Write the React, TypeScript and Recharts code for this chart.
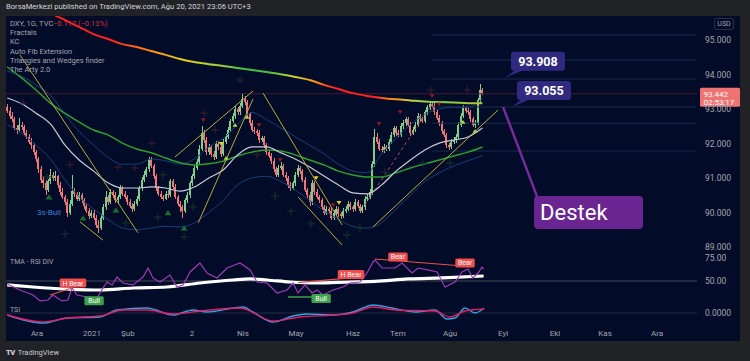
import React from 'react';
import { ComposedChart, Bar, Line, Scatter, XAxis, YAxis, ReferenceLine, ReferenceDot } from 'recharts';

const FONT = 'Roboto, "Noto Sans", sans-serif';
const FRAME = '#212226';
const PANEL = '#020b27';
const AXIS_TEXT = '#a3a6af';
const UP = '#7ccf8a';
const DOWN = '#f07676';

// Daily DXY candles (index 0 = mid Nov 2020)
const FIRST_OPEN = 93.05;
const CLOSE = [
  92.95, 92.8, 92.7, 92.45, 92.38, 92.55, 92.48, 92.3, 92.2, 92.05,
  91.95, 91.75, 91.55, 91.25, 90.95, 90.85, 90.65, 90.9, 91.1, 91.0,
  91.05, 90.8, 90.6, 90.45, 90.3, 89.98, 90.25, 90.62, 90.55, 90.4,
  90.5, 90.35, 90.18, 90.05, 89.9, 90.0, 89.85, 89.65, 89.55, 89.85,
  90.15, 90.45, 90.3, 90.6, 90.5, 90.35, 90.45, 90.7, 90.55, 90.45,
  90.3, 90.2, 90.1, 90.25, 90.4, 90.7, 90.95, 91.1, 91.25, 91.55,
  91.35, 91.05, 90.7, 90.55, 90.45, 90.4, 90.55, 90.5, 90.9, 90.75,
  90.45, 90.25, 90.15, 90.05, 90.35, 90.5, 90.85, 91.05, 91.3, 91.45,
  91.85, 92.3, 92.1, 91.75, 91.9, 91.7, 91.6, 92.0, 91.9, 91.7,
  92.05, 92.2, 92.4, 92.65, 92.8, 93.0, 92.9, 93.1, 93.3, 93.2,
  92.85, 92.6, 92.4, 92.35, 92.3, 92.1, 92.15, 91.95, 91.75, 91.65,
  91.5, 91.25, 91.1, 91.3, 91.35, 91.1, 91.0, 90.8, 90.7, 90.85,
  91.1, 91.3, 91.2, 90.95, 90.65, 90.5, 90.3, 90.85, 90.6, 90.45,
  90.35, 90.15, 90.0, 90.1, 90.05, 89.85, 90.0, 90.1, 89.95, 89.9,
  90.05, 90.1, 90.25, 90.15, 90.1, 90.3, 90.2, 90.05, 90.15, 90.4,
  90.45, 90.6, 91.4, 92.2, 92.05, 91.85, 91.8, 91.9, 91.85, 92.05,
  92.25, 92.45, 92.3, 92.25, 92.5, 92.6, 92.7, 92.55, 92.3, 92.4,
  92.55, 92.8, 92.7, 92.65, 92.9, 93.05, 93.15, 93.1, 92.9, 92.75,
  92.6, 92.35, 92.25, 91.95, 91.9, 92.05, 92.1, 92.2, 92.55, 92.8,
  93.05, 92.95, 92.9, 92.7, 92.55, 92.6, 93.25, 93.55, 93.442,
];
const HIGH = [
  93.15, 93.05, 92.9, 92.78, 92.55, 92.75, 92.62, 92.55, 92.38, 92.28,
  92.15, 92.02, 91.82, 91.62, 91.35, 91.05, 90.95, 90.98, 91.25, 91.18,
  91.2, 91.1, 90.88, 90.7, 90.52, 90.38, 90.35, 91.1, 90.72, 90.6,
  90.58, 90.56, 90.42, 90.25, 90.12, 90.08, 90.06, 89.92, 89.78, 89.95,
  90.25, 90.62, 90.52, 90.68, 90.66, 90.58, 90.52, 90.8, 90.78, 90.62,
  90.52, 90.38, 90.28, 90.32, 90.48, 90.78, 91.02, 91.2, 91.32, 91.62,
  91.6, 91.42, 91.12, 90.78, 90.62, 90.52, 90.62, 90.64, 90.98, 90.96,
  90.82, 90.52, 90.32, 90.22, 90.42, 90.58, 90.92, 91.12, 91.38, 91.55,
  91.95, 92.5, 92.38, 92.18, 91.98, 91.96, 91.78, 92.08, 92.08, 91.96,
  92.12, 92.28, 92.48, 92.72, 92.88, 93.08, 93.06, 93.18, 93.45, 93.38,
  93.26, 92.92, 92.68, 92.48, 92.42, 92.38, 92.22, 92.22, 92.02, 91.82,
  91.72, 91.58, 91.32, 91.38, 91.45, 91.42, 91.18, 91.06, 90.88, 90.92,
  91.18, 91.38, 91.36, 91.26, 91.02, 90.72, 90.58, 90.95, 90.92, 90.68,
  90.52, 90.42, 90.22, 90.18, 90.16, 90.12, 90.08, 90.18, 90.16, 90.02,
  90.12, 90.18, 90.32, 90.3, 90.22, 90.38, 90.36, 90.26, 90.22, 90.48,
  90.55, 90.68, 91.48, 92.42, 92.3, 92.12, 91.92, 91.98, 91.96, 92.12,
  92.32, 92.52, 92.52, 92.38, 92.58, 92.68, 92.78, 92.76, 92.62, 92.48,
  92.62, 92.88, 92.86, 92.78, 92.98, 93.12, 93.22, 93.22, 93.16, 92.98,
  92.82, 92.66, 92.42, 92.3, 92.02, 92.12, 92.18, 92.28, 92.62, 92.88,
  93.12, 93.1, 93.02, 92.96, 92.78, 92.68, 93.32, 93.73, 93.62,
];
const LOW = [
  92.88, 92.72, 92.62, 92.38, 92.28, 92.32, 92.4, 92.25, 92.12, 91.98,
  91.85, 91.68, 91.45, 91.15, 90.85, 90.72, 90.52, 90.58, 90.82, 90.9,
  90.92, 90.72, 90.52, 90.38, 90.22, 89.88, 89.92, 90.18, 90.45, 90.32,
  90.33, 90.28, 90.1, 89.98, 89.82, 89.84, 89.78, 89.55, 89.42, 89.48,
  89.78, 90.08, 90.22, 90.24, 90.42, 90.28, 90.28, 90.38, 90.48, 90.38,
  90.22, 90.12, 90.02, 90.04, 90.18, 90.32, 90.62, 90.88, 91.02, 91.18,
  91.28, 90.98, 90.62, 90.48, 90.38, 90.32, 90.35, 90.42, 90.44, 90.68,
  90.38, 90.18, 90.02, 89.85, 89.98, 90.28, 90.42, 90.78, 90.98, 91.22,
  91.38, 91.78, 92.02, 91.68, 91.66, 91.62, 91.52, 91.55, 91.82, 91.62,
  91.64, 91.98, 92.12, 92.34, 92.58, 92.72, 92.84, 92.82, 93.02, 93.12,
  92.78, 92.52, 92.32, 92.28, 92.22, 92.02, 92.04, 91.88, 91.68, 91.58,
  91.42, 91.18, 91.02, 91.04, 91.22, 91.04, 90.92, 90.72, 90.62, 90.64,
  90.78, 91.02, 91.12, 90.88, 90.58, 90.42, 90.2, 90.22, 90.52, 90.38,
  90.28, 90.08, 89.92, 89.94, 89.98, 89.78, 89.78, 89.92, 89.88, 89.82,
  89.84, 89.98, 90.04, 90.08, 90.02, 90.04, 90.14, 89.98, 89.98, 90.08,
  90.32, 90.38, 90.52, 91.32, 91.98, 91.78, 91.72, 91.72, 91.78, 91.78,
  91.98, 92.18, 92.22, 92.18, 92.18, 92.42, 92.52, 92.48, 92.22, 92.24,
  92.32, 92.48, 92.62, 92.58, 92.6, 92.82, 92.98, 93.02, 92.84, 92.68,
  92.52, 92.28, 92.18, 91.88, 91.8, 91.84, 91.98, 92.02, 92.14, 92.48,
  92.74, 92.88, 92.84, 92.62, 92.48, 92.46, 92.55, 93.18, 93.4,
];

// Moving averages / Keltner channel, sampled every 6 bars
const MA_IDX = [0, 6, 12, 18, 24, 30, 36, 42, 48, 54, 60, 66, 72, 78, 84, 90, 96, 102, 108, 114, 120, 126, 132, 138, 144, 150, 156, 162, 168, 174, 180, 186, 192, 198];
const EMA_SLOW = [96.39, 96.19, 95.99, 95.78, 95.58, 95.38, 95.17, 95.03, 94.88, 94.8, 94.68, 94.57, 94.45, 94.36, 94.3, 94.25, 94.19, 94.13, 94.07, 94.01, 93.93, 93.84, 93.7, 93.58, 93.46, 93.38, 93.32, 93.28, 93.25, 93.22, 93.2, 93.19, 93.17, 93.17];
const MA_GREEN = [94.22, 93.9, 93.55, 93.17, 92.88, 92.62, 92.39, 92.25, 92.01, 91.84, 91.73, 91.58, 91.44, 91.38, 91.41, 91.49, 91.64, 91.75, 91.81, 91.78, 91.67, 91.52, 91.38, 91.2, 91.09, 91.03, 91.03, 91.15, 91.29, 91.41, 91.52, 91.64, 91.75, 91.9];
const KC_MID = [93.32, 93.15, 92.88, 92.57, 91.96, 91.52, 91.2, 90.86, 90.71, 90.71, 90.74, 90.71, 90.62, 90.74, 91.0, 91.23, 91.67, 91.9, 91.9, 91.73, 91.55, 91.32, 91.06, 90.8, 90.57, 90.54, 90.8, 91.2, 91.52, 91.81, 92.01, 92.1, 92.19, 92.45];
const KC_UP = [94.1, 93.95, 93.7, 93.4, 92.85, 92.35, 91.95, 91.6, 91.4, 91.4, 91.55, 91.5, 91.4, 91.55, 91.9, 92.15, 92.55, 92.9, 92.7, 92.45, 92.2, 91.95, 91.7, 91.4, 91.2, 91.15, 91.7, 92.15, 92.55, 92.85, 93.0, 93.05, 93.05, 93.3];
const KC_LOW = [92.55, 92.3, 91.95, 91.55, 90.95, 90.45, 90.1, 89.8, 89.55, 89.5, 89.55, 89.6, 89.58, 89.7, 90.0, 90.35, 90.8, 91.0, 91.05, 90.9, 90.65, 90.35, 90.05, 89.8, 89.6, 89.55, 89.7, 90.1, 90.5, 90.9, 91.15, 91.35, 91.5, 91.65];

// Triangles & wedges, [i1, p1, i2, p2]
const TREND_LINES = [
  [5.3, 94.57, 54.5, 89.41],
  [30.3, 89.73, 39.9, 89.2],
  [69.9, 91.61, 102.4, 93.52],
  [79.6, 89.7, 102.4, 93.29],
  [106.6, 93.46, 139.5, 89.64],
  [121.2, 90.45, 139.5, 89.06],
  [152.4, 89.58, 204.5, 92.97],
];
const DASHED_LINE = [149, 90.22, 177, 93.15];
const FIB_START = 177;
const FIB_LEVELS = [95.145, 94.42, 93.87, 93.06, 92.59, 91.78];
const LAST_PRICE = 93.442;
const COUNTDOWN = '02:53:17';

// Fractal markers [i, price]
const RED_DOWN = [[81.7, 92.68], [104.9, 92.54], [113.7, 91.52], [135.75, 90.22], [154.9, 92.57], [163.7, 92.91], [177, 93.38], [179.9, 93.14]];
const YELLOW_DOWN = [[89.1, 91.99], [128.7, 91.0], [138.25, 90.28]];
const GREEN_UP = [[17.4, 90.45], [31.6, 89.84], [45.3, 90.07], [67, 89.99], [73.7, 89.55]];
const LIME_UP = [[91.2, 91.58], [94.9, 92.54], [99.9, 92.77], [189.9, 92.62], [194.9, 92.36]];
const RED_CROSS = [[6.6, 93.17], [26.2, 91.38], [46.2, 91.32], [53.25, 91.29], [60.3, 92.01], [82, 92.88], [86.6, 92.39], [97, 93.84], [104.1, 91.67], [176.6, 93.55], [191.6, 93.55]];
const GREEN_CROSS = [[16.6, 91.03], [64.9, 91.09], [24.1, 89.38], [49.5, 89.7], [62.8, 89.87], [77.4, 90.16], [73.7, 89.29], [111.6, 90.48], [118.25, 90.04], [126.6, 89.67], [141.6, 89.35], [147, 89.55], [157.4, 91.17], [184.5, 91.43], [173.25, 91.43]];

// TMA - RSI DIV pane
const RSI_IDX = [0, 5.3, 10.75, 13.7, 17, 19.1, 22.8, 25.3, 27, 29.1, 33.25, 37.4, 39.9, 41.6, 43.7, 45.75, 48.25, 52.4, 56.6, 58.7, 60.75, 63.7, 67.8, 70.75, 73.25, 76.2, 80.3, 83.25, 87.4, 91.6, 97, 101.2, 102.4, 104.1, 108.25, 112.4, 116.6, 119.1, 121.2, 124.1, 127, 129.1, 131.6, 135.75, 139.9, 142.75, 147, 149.9, 152.4, 153.25, 156.2, 161.6, 164.5, 168.7, 171.2, 175.3, 179.1, 182.4, 186.6, 189.5, 192, 194, 196.2, 197.8, 198.5];
const RSI_VAL = [46.7, 40.2, 34.8, 28.3, 29.3, 34.8, 28.3, 29.3, 42.4, 34.8, 32.6, 31.5, 42.4, 48.9, 45.7, 54.3, 47.8, 45.7, 54.3, 64.1, 53.3, 48.9, 56.5, 43.5, 45.7, 59.8, 69.6, 58.7, 53.3, 64.1, 69.6, 62.0, 56.5, 48.9, 47.8, 37.0, 40.2, 47.8, 37.0, 45.7, 37.0, 40.2, 34.8, 40.2, 43.5, 47.8, 48.9, 58.7, 70.7, 72.8, 64.1, 64.1, 69.6, 58.7, 64.1, 62.0, 59.8, 43.5, 48.9, 59.8, 63.0, 53.3, 58.7, 65.2, 63.0];
const TMA_IDX = [0, 10.75, 24.9, 38.7, 52.4, 66.6, 80.3, 94.1, 101.2, 108.25, 117.8, 129.1, 142.75, 153.25, 167, 181.2, 198.5];
const TMA_VAL = [45.7, 43.5, 41.3, 40.2, 42.4, 43.5, 47.8, 51.1, 52.2, 51.1, 48.9, 47.8, 48.9, 49.5, 52.2, 53.3, 55.4];
const DIV_BEAR = [[17.8, 34.8, 27, 42.4], [121.2, 48.2, 142.9, 53.3], [153.25, 73.9, 189.9, 66.3]];
const DIV_BULL = [[32.4, 29.3, 39.9, 29.3], [117, 32.6, 130.3, 32.6]];
const TAG_IDX = [27.4, 143.25, 162.8, 190.75, 130.8, 36.2];
const TAG_RSI = [47.8, 57.1, 76.1, 69.6, 31.0, 28.4];
const TAG_TEXT = ['H Bear', 'H Bear', 'Bear', 'Bear', 'Bull', 'Bull'];

// TSI pane
const TSI_IDX = [0, 14.9, 24.9, 38.7, 45.75, 58.25, 69.1, 77.4, 83.25, 94.1, 98.25, 102.4, 110.75, 119.1, 124.9, 135.75, 144.1, 152.4, 160.3, 169.9, 178.25, 183.25, 186.6, 190.75, 194.9, 198.7];
const TSI_VAL = [-0.05, -0.25, -0.125, -0.1, 0.075, 0.125, -0.05, 0.075, 0.025, 0.125, 0.15, 0.025, -0.225, -0.075, -0.025, -0.05, 0.025, 0.2, 0.125, 0.025, 0.075, -0.15, -0.125, 0.125, 0, 0.125];
const SIG_IDX = [0, 14.9, 24.9, 38.7, 48.25, 58.25, 69.1, 80.3, 97, 110.75, 122, 135.75, 144.1, 152.4, 161.6, 178.25, 184.5, 190.75, 198.7];
const SIG_VAL = [-0.05, -0.225, -0.125, -0.075, 0.075, 0.075, -0.025, 0.05, 0.125, -0.2, -0.1, -0.05, 0, 0.15, 0.075, 0.05, -0.1, 0.05, 0.1];

// Time axis
const MONTH_TICKS = [12.4, 35.3, 50.3, 77, 98.25, 120.3, 144.1, 162.8, 184.5, 206.6, 228.25, 249.1, 270.75];
const MONTH_LABELS = ['Ara', '2021', 'Şub', '2', 'Nis', 'May', 'Haz', 'Tem', 'Ağu', 'Eyl', 'Eki', 'Kas', 'Ara'];
const PRICE_TICKS = [89, 90, 91, 92, 93, 94, 95];

// pane scales share one plot area
const X_DOMAIN = [-0.5, 287.4];
const PRICE_DOMAIN = [86.681, 95.696];
const RSI_DOMAIN = [0, 338];
const TSI_DOMAIN = [-0.35, 7.425];

const candles = CLOSE.map((c, k) => {
  const o = k === 0 ? FIRST_OPEN : CLOSE[k - 1];
  return { i: k, o, c, h: HIGH[k], l: LOW[k], range: [LOW[k], HIGH[k]] };
});
const series = (xs: number[], vs: number[]) => xs.map((i, k) => ({ i, v: vs[k] }));
const points = (list: number[][]) => list.map(([i, v]) => ({ i, v }));
const tags = TAG_IDX.map((i, k) => ({ i, v: TAG_RSI[k], t: TAG_TEXT[k] }));

const Candle = (props: any) => {
  const { x, y, width, height, payload } = props;
  if (!payload || height == null) return null;
  const { o, c, h, l } = payload;
  const color = c >= o ? UP : DOWN;
  const top = Math.min(y, y + height);
  const span = Math.abs(height);
  const ratio = span / (h - l || 1);
  const bodyTop = top + (h - Math.max(o, c)) * ratio;
  const bodyH = Math.max(1, Math.abs(o - c) * ratio);
  const mid = x + width / 2;
  const left = Math.round(mid - 1);
  return (
    <g shapeRendering="crispEdges">
      <line x1={left + 1} x2={left + 1} y1={top} y2={top + span} stroke={color} strokeWidth={1} />
      <rect x={left} y={bodyTop} width={2} height={bodyH} fill={color} />
    </g>
  );
};

const triDown = (color: string, s: number) => (p: any) => (
  <path d={`M${p.cx - s},${p.cy - s * 0.7} L${p.cx + s},${p.cy - s * 0.7} L${p.cx},${p.cy + s * 0.8} Z`} fill={color} />
);
const triUp = (color: string, s: number) => (p: any) => (
  <path d={`M${p.cx - s},${p.cy + s * 0.7} L${p.cx + s},${p.cy + s * 0.7} L${p.cx},${p.cy - s * 0.8} Z`} fill={color} />
);
const cross = (color: string) => (p: any) => (
  <path d={`M${p.cx - 4},${p.cy} H${p.cx + 4} M${p.cx},${p.cy - 4} V${p.cy + 4}`} stroke={color} strokeWidth={1} />
);

const DivTag = (p: any) => {
  const { cx, cy, payload } = p;
  const bear = payload.t.indexOf('Bear') >= 0;
  const w = payload.t.length * 3.6 + 5;
  return (
    <g>
      <rect x={cx - w / 2} y={cy - 4.5} width={w} height={9} rx={1.5} fill={bear ? '#f24c4c' : '#3ea14c'} />
      <text x={cx} y={cy + 2.5} textAnchor="middle" fill="#fff" fontSize={7} fontFamily={FONT}>{payload.t}</text>
    </g>
  );
};

const AxisTag = (props: any) => {
  const vb = props.viewBox || {};
  return (
    <text x={vb.x + vb.width + 8} y={vb.y + 3} fill={AXIS_TEXT} fontSize={8.5} fontFamily={FONT}>{props.text}</text>
  );
};

const PriceTag = (props: any) => {
  const vb = props.viewBox || {};
  const x = vb.x + vb.width + 3;
  const y = vb.y;
  return (
    <g>
      <rect x={x} y={y - 6} width={40} height={19} rx={1.5} fill="#f07373" />
      <text x={x + 3.5} y={y + 3} fill="#fff" fontSize={8} fontFamily={FONT}>{LAST_PRICE.toFixed(3)}</text>
      <text x={x + 3.5} y={y + 11.5} fill="#fff" fontSize={8} fontFamily={FONT}>{COUNTDOWN}</text>
    </g>
  );
};

const Callout = ({ cx, cy, text, dx }: any) => {
  const bx = cx + dx;
  const by = cy - 26;
  return (
    <g>
      <path d={`M${cx},${cy} L${bx + 6},${by + 17} L${bx + 16},${by + 17} Z`} fill="#2f2a80" />
      <rect x={bx} y={by} width={54} height={19} rx={3} fill="#2f2a80" />
      <text x={bx + 27} y={by + 14} textAnchor="middle" fill="#fff" fontSize={12.5} fontWeight="bold" fontFamily={FONT}>{text}</text>
    </g>
  );
};

const SupportNote = ({ cx, cy }: any) => (
  <g>
    <line x1={cx} y1={cy} x2={cx + 35} y2={cy + 92} stroke="#772b98" strokeWidth={2.5} />
    <rect x={cx + 31} y={cy + 89} width={109} height={33} rx={4} fill="#6b2590" />
    <text x={cx + 37} y={cy + 113} fill="#fff" fontSize={22} fontFamily={FONT}>Destek</text>
  </g>
);

const legendLines = ['Fractals', 'KC', 'Auto Fib Extension', 'Triangles and Wedges finder', 'The Arty 2.0'];

const App: React.FC = () => {
  const txt = (top: number, left: number, text: string, color = AXIS_TEXT, size = 7.5) => (
    <div style={{ position: 'absolute', top, left, color, fontSize: size, lineHeight: '10px', whiteSpace: 'nowrap' }}>{text}</div>
  );
  return (
    <div style={{ position: 'fixed', left: 0, top: 0, width: 750, height: 361, background: FRAME, overflow: 'hidden', fontFamily: FONT }}>
      {txt(2, 6, 'BorsaMerkezi published on TradingView.com, Ağu 20, 2021 23:06 UTC+3', '#d1d4dc', 7.6)}
      <div style={{ position: 'absolute', left: 6, top: 16, width: 734, height: 325, background: PANEL }} />
      <div style={{ position: 'absolute', left: 6, top: 16 }}>
        <ComposedChart width={734} height={325} data={candles} margin={{ top: 0, right: 0, bottom: 0, left: 0 }}>
          <defs>
            <linearGradient id="emaGrad" x1="0" y1="0" x2="1" y2="0">
              <stop offset="0" stopColor="#ff1c1c" />
              <stop offset="0.22" stopColor="#ff2020" />
              <stop offset="0.3" stopColor="#ff8a10" />
              <stop offset="0.37" stopColor="#e0d020" />
              <stop offset="0.45" stopColor="#9ed040" />
              <stop offset="0.5" stopColor="#40c040" />
              <stop offset="0.55" stopColor="#48c040" />
              <stop offset="0.61" stopColor="#d8d030" />
              <stop offset="0.65" stopColor="#ff8a10" />
              <stop offset="0.69" stopColor="#ff2020" />
              <stop offset="0.77" stopColor="#ff2020" />
              <stop offset="0.81" stopColor="#ff8a10" />
              <stop offset="0.85" stopColor="#c8d040" />
              <stop offset="0.9" stopColor="#70d050" />
              <stop offset="1" stopColor="#c0c030" />
            </linearGradient>
          </defs>
          <XAxis
            dataKey="i"
            type="number"
            domain={X_DOMAIN}
            allowDataOverflow
            ticks={MONTH_TICKS}
            interval={0}
            tickFormatter={(v: number) => MONTH_LABELS[MONTH_TICKS.indexOf(v)] ?? ''}
            axisLine={false}
            tickLine={false}
            tickSize={0}
            tickMargin={3}
            height={14}
            tick={{ fill: AXIS_TEXT, fontSize: 8, fontFamily: FONT }}
          />
          <YAxis
            yAxisId="p"
            orientation="right"
            domain={PRICE_DOMAIN}
            allowDataOverflow
            ticks={PRICE_TICKS}
            interval={0}
            tickFormatter={(v: number) => v.toFixed(3)}
            width={43}
            axisLine={false}
            tickLine={false}
            tickSize={0}
            tickMargin={8}
            tick={{ fill: AXIS_TEXT, fontSize: 8.5, fontFamily: FONT }}
          />
          <YAxis yAxisId="r" hide domain={RSI_DOMAIN} allowDataOverflow />
          <YAxis yAxisId="t" hide domain={TSI_DOMAIN} allowDataOverflow />

          {FIB_LEVELS.map((lv) => (
            <ReferenceLine key={lv} yAxisId="p" segment={[{ x: FIB_START, y: lv }, { x: 287, y: lv }]} stroke="#1a2b4d" strokeWidth={1} />
          ))}
          <ReferenceLine yAxisId="p" y={LAST_PRICE} stroke="#4a1b2d" strokeWidth={1} label={<PriceTag />} />

          <Line data={series(MA_IDX, KC_UP)} dataKey="v" yAxisId="p" type="monotone" stroke="#173f78" strokeWidth={1} dot={false} isAnimationActive={false} />
          <Line data={series(MA_IDX, KC_LOW)} dataKey="v" yAxisId="p" type="monotone" stroke="#173f78" strokeWidth={1} dot={false} isAnimationActive={false} />
          <Line data={series(MA_IDX, MA_GREEN)} dataKey="v" yAxisId="p" type="monotone" stroke="#2da12d" strokeWidth={1.5} dot={false} isAnimationActive={false} />
          <Line data={series(MA_IDX, KC_MID)} dataKey="v" yAxisId="p" type="monotone" stroke="#c9cbd6" strokeWidth={1.2} dot={false} isAnimationActive={false} />
          <Line data={series(MA_IDX, EMA_SLOW)} dataKey="v" yAxisId="p" type="monotone" stroke="url(#emaGrad)" strokeWidth={2} dot={false} isAnimationActive={false} />

          {TREND_LINES.map(([i1, p1, i2, p2], k) => (
            <ReferenceLine key={`tl${k}`} yAxisId="p" segment={[{ x: i1, y: p1 }, { x: i2, y: p2 }]} stroke="#b9ac38" strokeWidth={1} />
          ))}
          <ReferenceLine yAxisId="p" segment={[{ x: DASHED_LINE[0], y: DASHED_LINE[1] }, { x: DASHED_LINE[2], y: DASHED_LINE[3] }]} stroke="#c85050" strokeWidth={1} strokeDasharray="3 3" />

          <Scatter data={points(RED_CROSS)} dataKey="v" yAxisId="p" shape={cross('#3a2033')} isAnimationActive={false} />
          <Scatter data={points(GREEN_CROSS)} dataKey="v" yAxisId="p" shape={cross('#17352f')} isAnimationActive={false} />

          <Bar dataKey="range" yAxisId="p" barSize={2} shape={<Candle />} isAnimationActive={false} />

          <Scatter data={points(RED_DOWN)} dataKey="v" yAxisId="p" shape={triDown('#8e1a22', 2.5)} isAnimationActive={false} />
          <Scatter data={points(YELLOW_DOWN)} dataKey="v" yAxisId="p" shape={triDown('#e8d21c', 2.5)} isAnimationActive={false} />
          <Scatter data={points(GREEN_UP)} dataKey="v" yAxisId="p" shape={triUp('#1b6a2e', 3.5)} isAnimationActive={false} />
          <Scatter data={points(LIME_UP)} dataKey="v" yAxisId="p" shape={triUp('#a9d84a', 2.5)} isAnimationActive={false} />

          <ReferenceDot yAxisId="p" x={17.4} y={90.01} shape={(p: any) => (
            <text x={p.cx} y={p.cy + 3} textAnchor="middle" fill="#3a7fd8" fontSize={8} fontFamily={FONT}>3s-Bull</text>
          )} />
          <ReferenceDot yAxisId="p" x={206.6} y={93.055} shape={(p: any) => <SupportNote cx={p.cx} cy={p.cy} />} />
          <ReferenceDot yAxisId="p" x={207.4} y={93.908} shape={(p: any) => <Callout cx={p.cx} cy={p.cy} text="93.908" dx={6} />} />
          <ReferenceDot yAxisId="p" x={210.3} y={93.055} shape={(p: any) => <Callout cx={p.cx} cy={p.cy} text="93.055" dx={5} />} />

          {/* RSI pane */}
          <ReferenceLine yAxisId="r" y={75} stroke="none" label={<AxisTag text="75.00" />} />
          <ReferenceLine yAxisId="r" y={50} stroke="#474b58" strokeWidth={1} label={<AxisTag text="50.00" />} />
          <Line data={series(TMA_IDX, TMA_VAL)} dataKey="v" yAxisId="r" type="monotone" stroke="#ffffff" strokeWidth={3.2} dot={false} isAnimationActive={false} />
          <Line data={series(RSI_IDX, RSI_VAL)} dataKey="v" yAxisId="r" type="linear" stroke="#a03ab8" strokeWidth={1.2} dot={false} isAnimationActive={false} />
          {DIV_BEAR.map(([i1, v1, i2, v2], k) => (
            <ReferenceLine key={`db${k}`} yAxisId="r" segment={[{ x: i1, y: v1 }, { x: i2, y: v2 }]} stroke="#e8504a" strokeWidth={1.2} />
          ))}
          {DIV_BULL.map(([i1, v1, i2, v2], k) => (
            <ReferenceLine key={`du${k}`} yAxisId="r" segment={[{ x: i1, y: v1 }, { x: i2, y: v2 }]} stroke="#3ea14c" strokeWidth={1.5} />
          ))}
          <Scatter data={tags} dataKey="v" yAxisId="r" shape={DivTag} isAnimationActive={false} />

          {/* TSI pane */}
          <ReferenceLine yAxisId="t" y={0} stroke="#262c44" strokeWidth={1} label={<AxisTag text="0.0000" />} />
          <Line data={series(TSI_IDX, TSI_VAL)} dataKey="v" yAxisId="t" type="monotone" stroke="#2ba6df" strokeWidth={1.4} dot={false} isAnimationActive={false} />
          <Line data={series(SIG_IDX, SIG_VAL)} dataKey="v" yAxisId="t" type="monotone" stroke="#e9196a" strokeWidth={1.4} dot={false} isAnimationActive={false} />
        </ComposedChart>
      </div>

      {txt(18.5, 10, 'DXY, 1G, TVC')}
      {txt(18.5, 53, '−0.117 (−0.13%)', '#d2333f')}
      {legendLines.map((l, k) => (
        <React.Fragment key={l}>{txt(27.8 + k * 9.35, 10, l)}</React.Fragment>
      ))}
      {txt(257, 10, 'TMA - RSI DIV', AXIS_TEXT, 7)}
      {txt(305, 10, 'TSI', AXIS_TEXT, 7)}
      <div style={{ position: 'absolute', left: 714, top: 18, width: 18, height: 10, border: '1px solid #2a2e3a', borderRadius: 2, color: AXIS_TEXT, fontSize: 7, lineHeight: '10px', textAlign: 'center' }}>USD</div>
      <div style={{ position: 'absolute', left: 6, top: 348, color: '#c8cad2', fontSize: 7.5, lineHeight: '10px', whiteSpace: 'nowrap' }}>
        <span style={{ fontWeight: 900, letterSpacing: -0.5, marginRight: 3 }}>TV</span>TradingView
      </div>
    </div>
  );
};

export default App;
